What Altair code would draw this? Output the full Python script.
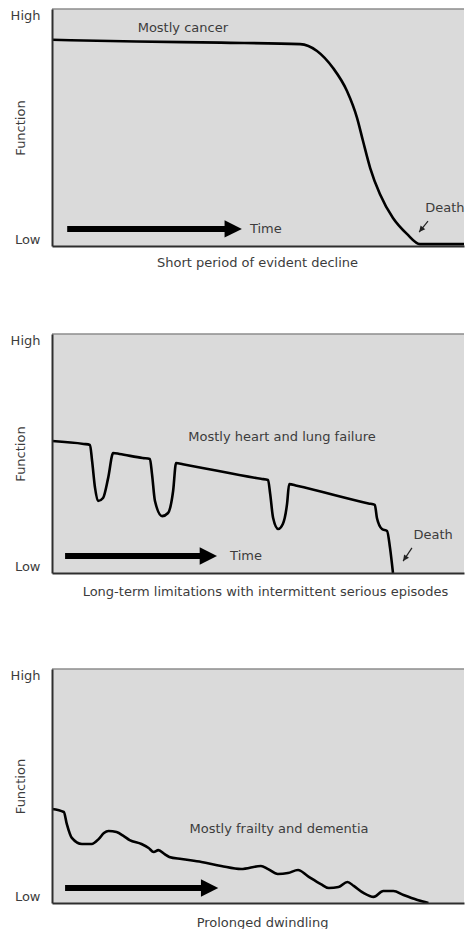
import altair as alt
import pandas as pd

FONT = "DejaVu Sans"
INK = "#3c3c3c"
FILL = "#dadada"

# ---------------- data ----------------
y_tick_values = [0, 100]
y_tick_labels = ["Low", "High"]

# Panel 1 - short period of evident decline
p1_time = [0, 20, 40, 58.8, 62.8, 66.6, 69.9, 72.3, 73.7, 75.4, 77.7, 80.8, 84.1, 87.2, 100]
p1_func = [87.0, 86.3, 85.8, 85.2, 82.3, 75.1, 65.4, 54.0, 44.3, 32.9, 21.9, 11.8, 5.1, 0.8, 0.8]

# Panel 2 - long-term limitations with intermittent serious episodes
p2_time = [0, 7.5, 9.0, 9.5, 10.2, 10.9, 12.1, 13.3, 14.5, 16.0, 21.5, 23.2, 23.7, 24.4, 26.1,
           27.5, 28.7, 29.4, 31.0, 49.5, 51.2, 51.7, 52.4, 53.6, 54.7, 55.7, 56.2, 58.0, 75.0,
           76.5, 77.0, 78.2, 79.4, 80.1, 80.8]
p2_func = [55.2, 54.0, 53.6, 46.9, 35.6, 30.1, 31.4, 39.7, 50.2, 49.8, 48.1, 47.7, 41.4, 30.1,
           23.8, 25.1, 34.3, 46.0, 45.5, 39.4, 38.9, 33.1, 23.0, 18.4, 20.5, 28.9, 37.2, 36.5,
           29.1, 28.5, 23.0, 18.4, 17.6, 10.5, 0]

# Panel 3 - prolonged dwindling
p3_time = [0, 2.8, 3.5, 4.7, 7.1, 9.4, 11.1, 12.3, 13.4, 15.3, 17.0, 18.4, 21.2, 22.9, 24.1,
           25.2, 26.7, 27.8, 30.7, 35.4, 40.1, 44.8, 49.5, 51.2, 53.5, 55.9, 58.3, 60.6, 63.7,
           65.6, 67.9, 70.0, 71.5, 73.8, 76.2, 78.5, 80.9, 83.3, 86.6, 89.2]
p3_func = [40.2, 38.9, 33.8, 27.8, 25.2, 25.2, 27.4, 29.9, 30.8, 30.3, 28.6, 26.9, 25.2, 23.5,
           21.8, 22.6, 20.9, 19.7, 18.8, 17.5, 15.8, 14.5, 15.8, 14.5, 12.4, 12.8, 14.1, 11.5,
           8.1, 6.4, 6.8, 9.0, 7.3, 4.3, 2.6, 5.1, 5.1, 3.4, 1.3, 0]

subtitles = ["Short period of evident decline",
             "Long-term limitations with intermittent serious episodes",
             "Prolonged dwindling"]

# in-plot labels: (text, x, y, align)
p1_labels = [("Mostly cancer", 31.0, 92.0, "center"),
             ("Death", 93.1, 16.0, "center"),
             ("Time", 46.9, 7.2, "left")]
p2_labels = [("Mostly heart and lung failure", 54.5, 56.9, "center"),
             ("Death", 90.3, 15.9, "center"),
             ("Time", 42.2, 7.1, "left")]
p3_labels = [("Mostly frailty and dementia", 53.8, 31.6, "center")]

# time arrows: (shaft start, shaft end, tip, y)
p1_arrow = (3.6, 41.5, 45.0, 7.2)
p2_arrow = (3.1, 35.8, 39.1, 7.1)
p3_arrow = (3.1, 35.6, 39.4, 6.4)

# small death pointers: (x from, y from, x to, y to, angle)
p1_death = (89.1, 10.5, 87.0, 5.9, 129)
p2_death = (85.3, 10.5, 83.2, 5.0, 125)

top_edge = [100]

HEAD = "M-2,-1L0,0L-2,1Z"

label_expr = "datum.value == {} ? '{}' : '{}'".format(y_tick_values[0], y_tick_labels[0], y_tick_labels[1])

PLOT_W = 412
# the visible part of the time axis (the original panel runs past the page edge)
XS = alt.Scale(domain=[0, 100 * PLOT_W / 422], nice=False, zero=False)
YS = alt.Scale(domain=[0, 100], nice=False, zero=False)


def panel(tx, fy, labels, arrow, death, subtitle, tpad, tx_title, h, interp):
    line_df = pd.DataFrame({"x": tx, "y": fy})
    y_axis = alt.Axis(values=y_tick_values, labelExpr=label_expr, labelFlush=True,
                      ticks=False, tickSize=0, labelPadding=12, grid=False,
                      domainColor="#2e2e2e", domainWidth=2, title="Function",
                      titleX=-32, titleBaseline="middle", titleFontWeight="normal",
                      titleFontSize=13, titleColor=INK, labelColor=INK, labelFontSize=13,
                      labelFont=FONT, titleFont=FONT, zindex=1)
    x_axis = alt.Axis(labels=False, ticks=False, tickSize=0, grid=False,
                      domainColor="#2e2e2e", domainWidth=2, title=subtitle,
                      titlePadding=tpad, titleX=tx_title, titleFontWeight="normal",
                      titleFontSize=13, titleColor=INK, titleFont=FONT, zindex=1)
    border = alt.Chart(pd.DataFrame({"y": top_edge})).mark_rule(
        color="#8c8c8c", strokeWidth=1.5).encode(
        y=alt.Y("y:Q", scale=YS, axis=y_axis))
    line = alt.Chart(line_df).mark_line(color="black", strokeWidth=2.6,
                                        interpolate=interp, clip=True).encode(
        x=alt.X("x:Q", scale=XS, axis=x_axis),
        y=alt.Y("y:Q", scale=YS, axis=y_axis),
    )
    lab_df = pd.DataFrame(labels, columns=["t", "x", "y", "a"])
    layers = [border, line]
    for al in lab_df["a"].unique():
        sub = lab_df[lab_df["a"] == al]
        layers.append(alt.Chart(sub).mark_text(font=FONT, fontSize=13, color=INK,
                                               align=al, baseline="middle").encode(
            x=alt.X("x:Q", scale=XS, axis=x_axis),
            y=alt.Y("y:Q", scale=YS, axis=y_axis),
            text="t:N"))
    arr_df = pd.DataFrame([{"x": arrow[0], "x2": arrow[1], "tip": arrow[2], "y": arrow[3]}])
    layers.append(alt.Chart(arr_df).mark_rule(color="black", strokeWidth=6,
                                              strokeCap="butt").encode(
        x=alt.X("x:Q", scale=XS, axis=x_axis), x2="x2:Q",
        y=alt.Y("y:Q", scale=YS, axis=y_axis)))
    layers.append(alt.Chart(arr_df).mark_point(shape=HEAD, filled=True, size=300,
                                               color="black", opacity=1, strokeWidth=0).encode(
        x=alt.X("tip:Q", scale=XS, axis=x_axis),
        y=alt.Y("y:Q", scale=YS, axis=y_axis)))
    if death is not None:
        d_df = pd.DataFrame([{"x": death[0], "y": death[1], "x2": death[2], "y2": death[3]}])
        layers.append(alt.Chart(d_df).mark_rule(color="#222", strokeWidth=1.2).encode(
            x=alt.X("x:Q", scale=XS, axis=x_axis), x2="x2:Q",
            y=alt.Y("y:Q", scale=YS, axis=y_axis), y2="y2:Q"))
        layers.append(alt.Chart(d_df).mark_point(shape=HEAD, filled=True, size=36,
                                                 angle=death[4], color="#222", opacity=1,
                                                 strokeWidth=0).encode(
            x=alt.X("x2:Q", scale=XS, axis=x_axis),
            y=alt.Y("y2:Q", scale=YS, axis=y_axis)))
    return alt.layer(*layers).properties(width=PLOT_W, height=h)


c1 = panel(p1_time, p1_func, p1_labels, p1_arrow, p1_death, subtitles[0], 10, 205, 237, "monotone")
c2 = panel(p2_time, p2_func, p2_labels, p2_arrow, p2_death, subtitles[1], 12, 213, 239, "monotone")
c3 = panel(p3_time, p3_func, p3_labels, p3_arrow, None, subtitles[2], 13, 210, 234, "monotone")

top = alt.vconcat(c1, c2, spacing=64)
chart = alt.vconcat(top, c3, spacing=70).properties(
    padding={"left": 2, "top": 0, "right": 0, "bottom": 0}
).configure_view(fill=FILL, stroke="transparent", strokeWidth=0)

chart.save("out.html", embed_options={"renderer": "svg", "actions": False})
